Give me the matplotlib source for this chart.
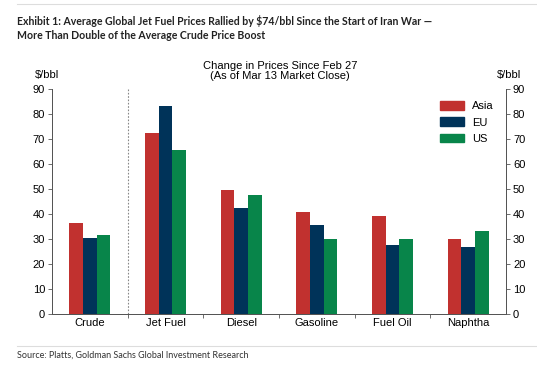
import numpy as np
import matplotlib.pyplot as plt
from matplotlib.lines import Line2D
from matplotlib.patches import Patch

categories = ["Crude", "Jet Fuel", "Diesel", "Gasoline", "Fuel Oil", "Naphtha"]
asia = [36.4, 72.3, 49.7, 40.9, 39.3, 30.1]
eu = [30.5, 83.4, 42.5, 35.7, 27.7, 26.9]
us = [31.7, 65.7, 47.6, 29.9, 30.1, 33.1]
series = [("Asia", asia, "#C1312F"), ("EU", eu, "#003359"), ("US", us, "#08854A")]

FS = 8

fig = plt.figure(figsize=(5.37, 3.67), dpi=100)
ax = fig.add_axes([52 / 537, 1 - 314 / 367, 454 / 537, 225 / 367])

x = np.arange(len(categories))
w = 0.18
for i, (name, vals, col) in enumerate(series):
    ax.bar(x + (i - 1) * w, vals, width=w, color=col, label=name, edgecolor="none")

ax.set_xlim(-0.5, len(categories) - 0.5)
ax.set_ylim(0, 90)
ax.set_yticks(range(0, 91, 10))
ax.axvline(0.5, color="#888888", ls=(0, (1.5, 1.5)), lw=0.8)

tick_font = dict(family="Liberation Sans", size=FS)
ax.set_xticks(x)
ax.set_xticklabels(categories, fontdict=tick_font)
ax.tick_params(axis="x", length=0, pad=3)
ax.set_xticks(np.arange(0.5, len(categories) - 1, 1), minor=True)
ax.tick_params(axis="x", which="minor", length=3, color="#555555", width=0.6)
ax.tick_params(axis="y", length=3, color="#555555", width=0.6, pad=2)
for lab in ax.get_yticklabels():
    lab.set_fontproperties("Liberation Sans")
    lab.set_fontsize(FS)

ax2 = ax.twinx()
ax2.set_ylim(0, 90)
ax2.set_yticks(range(0, 91, 10))
ax2.tick_params(axis="y", length=3, color="#555555", width=0.6, pad=2)
for lab in ax2.get_yticklabels():
    lab.set_fontproperties("Liberation Sans")
    lab.set_fontsize(FS)

for a in (ax, ax2):
    a.spines["top"].set_visible(False)
    for s in ("left", "right", "bottom"):
        a.spines[s].set_color("#555555")
        a.spines[s].set_linewidth(0.7)

handles = [Patch(color=c) for _, _, c in series]
ax.legend(handles, [n for n, _, _ in series], loc="upper right",
          bbox_to_anchor=(0.995, 0.99), frameon=False,
          prop=dict(family="Liberation Sans", size=FS),
          handlelength=2.2, handleheight=0.8, labelspacing=0.55, handletextpad=0.7)

fig.text(280 / 537, 1 - 71 / 367, "Change in Prices Since Feb 27\n(As of Mar 13 Market Close)",
         ha="center", va="center", family="Liberation Sans", size=FS, linespacing=1.05)
fig.text(47 / 537, 1 - 75 / 367, "$/bbl", ha="center", va="center",
         family="Liberation Sans", size=FS)
fig.text(509 / 537, 1 - 75 / 367, "$/bbl", ha="center", va="center",
         family="Liberation Sans", size=FS)

fig.add_artist(Line2D([17 / 537, 1], [1 - 4 / 367] * 2, color="#DDDDDD", lw=0.8))
fig.text(17 / 537, 1 - 15 / 367,
         "Exhibit 1: Average Global Jet Fuel Prices Rallied by $74/bbl Since the Start of Iran War \u2014\n"
         "More Than Double of the Average Crude Price Boost",
         ha="left", va="top", family="Lato", weight="bold", size=7.6,
         color="#222222", linespacing=1.3)
fig.add_artist(Line2D([17 / 537, 1], [1 - 346 / 367] * 2, color="#DDDDDD", lw=0.8))
fig.text(17 / 537, 1 - 355 / 367, "Source: Platts, Goldman Sachs Global Investment Research",
         ha="left", va="center", family="Lato", size=6.5, color="#333333")

fig.savefig("out.png", dpi=100)
